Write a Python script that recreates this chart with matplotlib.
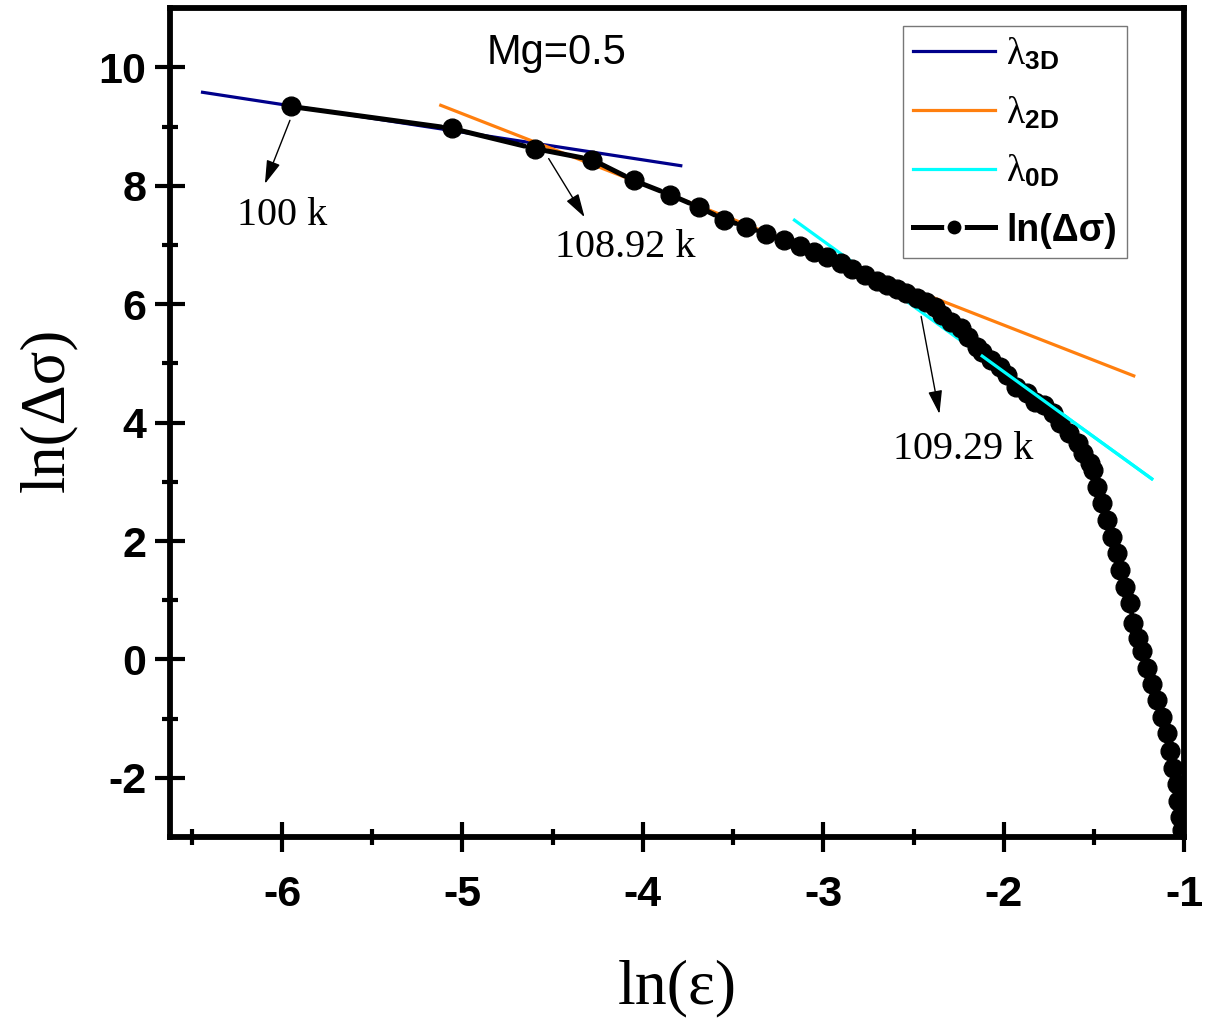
import numpy as np
import matplotlib.pyplot as plt
from matplotlib.lines import Line2D
from matplotlib.ticker import MultipleLocator, FixedLocator

# ln(eps) / ln(delta sigma) data for Mg=0.5
ln_eps = [-5.95, -5.06, -4.60, -4.28, -4.05, -3.85, -3.69, -3.55, -3.43, -3.32,
          -3.22, -3.13, -3.05, -2.98, -2.90, -2.84, -2.77, -2.70, -2.65, -2.59,
          -2.54, -2.48, -2.43, -2.38, -2.34, -2.29, -2.24, -2.20, -2.15, -2.12,
          -2.07, -2.02, -1.98, -1.93, -1.87, -1.83, -1.78, -1.73, -1.69, -1.64,
          -1.59, -1.56, -1.52, -1.505, -1.483, -1.455, -1.427, -1.40, -1.372, -1.355,
          -1.327, -1.30, -1.283, -1.255, -1.233, -1.205, -1.178, -1.15, -1.122, -1.094,
          -1.078, -1.061, -1.039, -1.033, -1.022, -1.011]
ln_dsig = [9.34, 8.97, 8.63, 8.44, 8.09, 7.85, 7.64, 7.43, 7.31, 7.19,
           7.08, 6.98, 6.88, 6.79, 6.70, 6.60, 6.50, 6.40, 6.33, 6.26,
           6.19, 6.11, 6.04, 5.96, 5.82, 5.70, 5.60, 5.45, 5.28, 5.19,
           5.06, 4.94, 4.81, 4.60, 4.50, 4.35, 4.30, 4.16, 3.99, 3.82,
           3.65, 3.49, 3.32, 3.20, 2.91, 2.64, 2.35, 2.06, 1.79, 1.51,
           1.22, 0.95, 0.61, 0.37, 0.15, -0.14, -0.41, -0.69, -0.98, -1.25,
           -1.54, -1.83, -2.10, -2.39, -2.67, -2.89]

# linear fits (end points)
fit3d_x, fit3d_y = [-6.44, -3.79], [9.58, 8.34]
fit2d_x, fit2d_y = [-5.12, -1.28], [9.36, 4.79]
fit0d_x, fit0d_y = [-3.16, -1.18], [7.42, 3.05]
fit0d_win = -2.12   # start of the 0D fitting window

plt.rcParams['axes.unicode_minus'] = False
plt.rcParams['mathtext.fontset'] = 'custom'
plt.rcParams['mathtext.rm'] = 'Liberation Serif'
plt.rcParams['mathtext.bf'] = 'Liberation Sans:bold'
plt.rcParams['mathtext.it'] = 'Liberation Serif:italic'

fig = plt.figure(figsize=(12.06, 10.27), dpi=100)
ax = fig.add_axes([0.141, 0.185, 0.841, 0.807])

c3d, c2d, c0d = '#00008B', '#FF7F0E', '#00FFFF'
ax.plot(fit3d_x, fit3d_y, color=c3d, lw=2.3, zorder=2)
ax.plot(fit2d_x, fit2d_y, color=c2d, lw=2.3, zorder=2)
ax.plot(fit0d_x, fit0d_y, color=c0d, lw=2.3, zorder=2)
# 0D fit over its window sits above the symbols
k0 = (fit0d_y[1] - fit0d_y[0]) / (fit0d_x[1] - fit0d_x[0])
ax.plot([fit0d_win, fit0d_x[1]],
        [fit0d_y[0] + k0 * (fit0d_win - fit0d_x[0]), fit0d_y[1]],
        color=c0d, lw=2.3, zorder=4)

# connecting line with a gap around each symbol
for i in range(len(ln_eps) - 1):
    ax.annotate('', xy=(ln_eps[i + 1], ln_dsig[i + 1]), xytext=(ln_eps[i], ln_dsig[i]),
                arrowprops=dict(arrowstyle='-', lw=3.6, color='black',
                                shrinkA=7.5, shrinkB=7.5), zorder=3)
ax.plot(ln_eps, ln_dsig, 'o', ms=13.5, color='black', zorder=3)

# transition temperatures
arr = dict(arrowstyle='-|>,head_length=0.6,head_width=0.18', lw=1.0,
           color='black', mutation_scale=24)
tfont = dict(family='Liberation Serif', size=29)
ax.annotate('', xy=(-6.10, 7.99), xytext=(-5.95, 9.15), arrowprops=arr)
ax.text(-6.00, 7.50, '100 k', ha='center', va='center', **tfont)
ax.annotate('', xy=(-4.315, 7.43), xytext=(-4.53, 8.50), arrowprops=arr)
ax.text(-4.10, 6.95, '108.92 k', ha='center', va='center', **tfont)
ax.annotate('', xy=(-2.354, 4.10), xytext=(-2.461, 5.84), arrowprops=arr)
ax.text(-2.225, 3.54, '109.29 k', ha='center', va='center', **tfont)

ax.text(-4.48, 10.25, 'Mg=0.5', ha='center', va='center',
        family='Liberation Sans', size=30)

ax.set_xlim(-6.62, -1)
ax.set_ylim(-3, 11)
ax.xaxis.set_major_locator(MultipleLocator(1))
ax.xaxis.set_minor_locator(FixedLocator(np.arange(-6.5, -1, 1.0)))
ax.yaxis.set_major_locator(MultipleLocator(2))
ax.yaxis.set_minor_locator(FixedLocator(np.arange(-1, 11, 2.0)))
ax.tick_params(which='major', direction='inout', length=22, width=3)
ax.tick_params(which='minor', direction='inout', length=11, width=3)
ax.tick_params(axis='x', which='major', pad=16)
ax.tick_params(axis='y', which='major', pad=6)
for lab in ax.get_xticklabels() + ax.get_yticklabels():
    lab.set_fontfamily('Liberation Sans')
    lab.set_fontweight('bold')
    lab.set_fontsize(31)
for sp in ax.spines.values():
    sp.set_linewidth(4.2)

ax.set_xlabel('ln(ε)', family='Liberation Serif', fontsize=46)
ax.set_ylabel('ln(Δσ)', family='Liberation Serif', fontsize=45)
ax.xaxis.set_label_coords(0.5, -0.148)
ax.yaxis.set_label_coords(-0.092, 0.515)

handles = [Line2D([], [], color=c3d, lw=2.3),
           Line2D([], [], color=c2d, lw=2.3),
           Line2D([], [], color=c0d, lw=2.3),
           Line2D([], [], color='black', lw=3.6, marker='o', ms=12.5,
                  mec='white', mew=2.5)]
labels = [r'$\mathrm{\lambda}_{\mathbf{3D}}$', r'$\mathrm{\lambda}_{\mathbf{2D}}$',
          r'$\mathrm{\lambda}_{\mathbf{0D}}$', 'ln(Δσ)']
leg = ax.legend(handles, labels, loc='upper left', bbox_to_anchor=(0.723, 0.978),
                borderaxespad=0, fancybox=False, handlelength=2.2, handletextpad=0.3,
                labelspacing=0.6, borderpad=0.25,
                prop=dict(family='Liberation Sans', weight='bold', size=27))
leg.get_frame().set_edgecolor('#555555')
leg.get_frame().set_linewidth(1.0)

fig.savefig('out.png', dpi=100)
